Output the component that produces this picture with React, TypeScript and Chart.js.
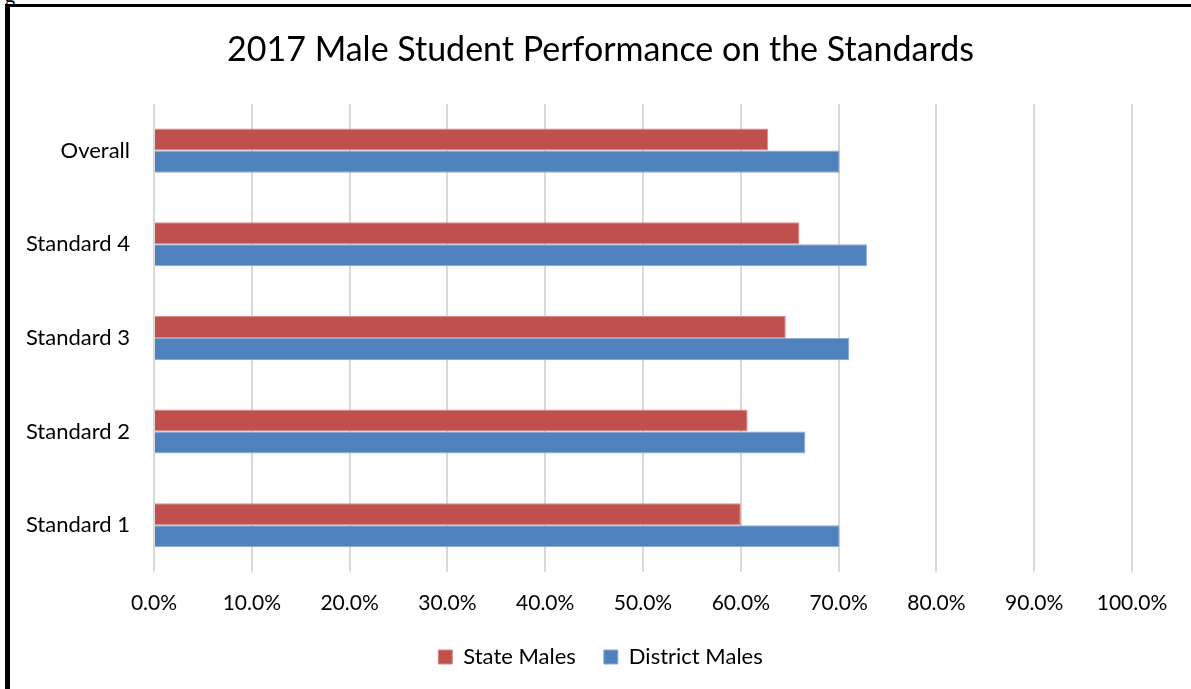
import React, { useEffect, useRef } from "react";
import { Chart, registerables } from "chart.js";

Chart.register(...registerables);

const categories = ["Overall", "Standard 4", "Standard 3", "Standard 2", "Standard 1"];
const stateMales = [0.628, 0.66, 0.646, 0.607, 0.6];
const districtMales = [0.701, 0.729, 0.711, 0.666, 0.701];
const seriesNames = ["State Males", "District Males"];
const xTicks = [0, 0.1, 0.2, 0.3, 0.4, 0.5, 0.6, 0.7, 0.8, 0.9, 1.0];

const FONT = "Lato, 'Open Sans', sans-serif";

export default function App() {
  const ref = useRef<HTMLCanvasElement | null>(null);

  useEffect(() => {
    if (!ref.current) return;
    const chart = new Chart(ref.current, {
      type: "bar",
      data: {
        labels: categories,
        datasets: [
          {
            label: seriesNames[0],
            data: stateMales,
            backgroundColor: "#C0504D",
            borderColor: "#D48C8A",
            borderWidth: 1,
          },
          {
            label: seriesNames[1],
            data: districtMales,
            backgroundColor: "#4F81BD",
            borderColor: "#8EAAD6",
            borderWidth: 1,
          },
        ],
      },
      options: {
        indexAxis: "y",
        animation: false,
        responsive: true,
        maintainAspectRatio: false,
        datasets: {
          bar: { categoryPercentage: 0.47, barPercentage: 1.0 },
        },
        layout: { padding: { left: 0, right: 0, top: 0, bottom: 11 } },
        plugins: {
          tooltip: { enabled: false },
          title: {
            display: true,
            text: "2017 Male Student Performance on the Standards",
            color: "#000",
            font: { family: FONT, size: 34, weight: "normal" },
            padding: { top: 23, bottom: 33 },
          },
          legend: {
            position: "bottom",
            labels: {
              color: "#000",
              font: { family: FONT, size: 22 },
              boxWidth: 14,
              boxHeight: 14,
              padding: 28,
            },
          },
        },
        scales: {
          x: {
            min: 0,
            max: 1,
            afterBuildTicks: (scale: any) => {
              scale.ticks = xTicks.map((v) => ({ value: v }));
            },
            afterFit: (scale: any) => {
              scale.height = 46;
            },
            grid: { color: "#d9d9d9", lineWidth: 2, drawTicks: false },
            border: { display: false },
            ticks: {
              padding: 19,
              color: "#000",
              font: { family: FONT, size: 21 },
              callback: (v: any) => (Number(v) * 100).toFixed(1) + "%",
            },
          },
          y: {
            afterFit: (scale: any) => {
              scale.width = 144;
            },
            grid: { display: false, drawTicks: false },
            border: { display: false },
            ticks: {
              padding: 24,
              color: "#000",
              font: { family: FONT, size: 22 },
            },
          },
          yRight: {
            type: "category",
            position: "right",
            afterFit: (scale: any) => {
              scale.width = 59;
            },
            grid: { display: false, drawTicks: false },
            border: { display: false },
            ticks: { display: false },
          },
        },
      },
    });
    return () => chart.destroy();
  }, []);

  return (
    <div style={{ position: "fixed", left: 0, top: 0, width: 1191, height: 689, background: "#fff", overflow: "hidden" }}>
      <div style={{ position: "absolute", left: 5, top: -16, fontSize: 20, fontFamily: "serif" }}>g</div>
      <div
        style={{
          position: "absolute",
          left: 5,
          top: 4,
          right: 0,
          bottom: 0,
          borderLeft: "5px solid #000",
          borderTop: "3px solid #000",
        }}
      />
      <div style={{ position: "absolute", left: 10, top: 7, width: 1181, height: 682 }}>
        <canvas ref={ref} />
      </div>
    </div>
  );
}
